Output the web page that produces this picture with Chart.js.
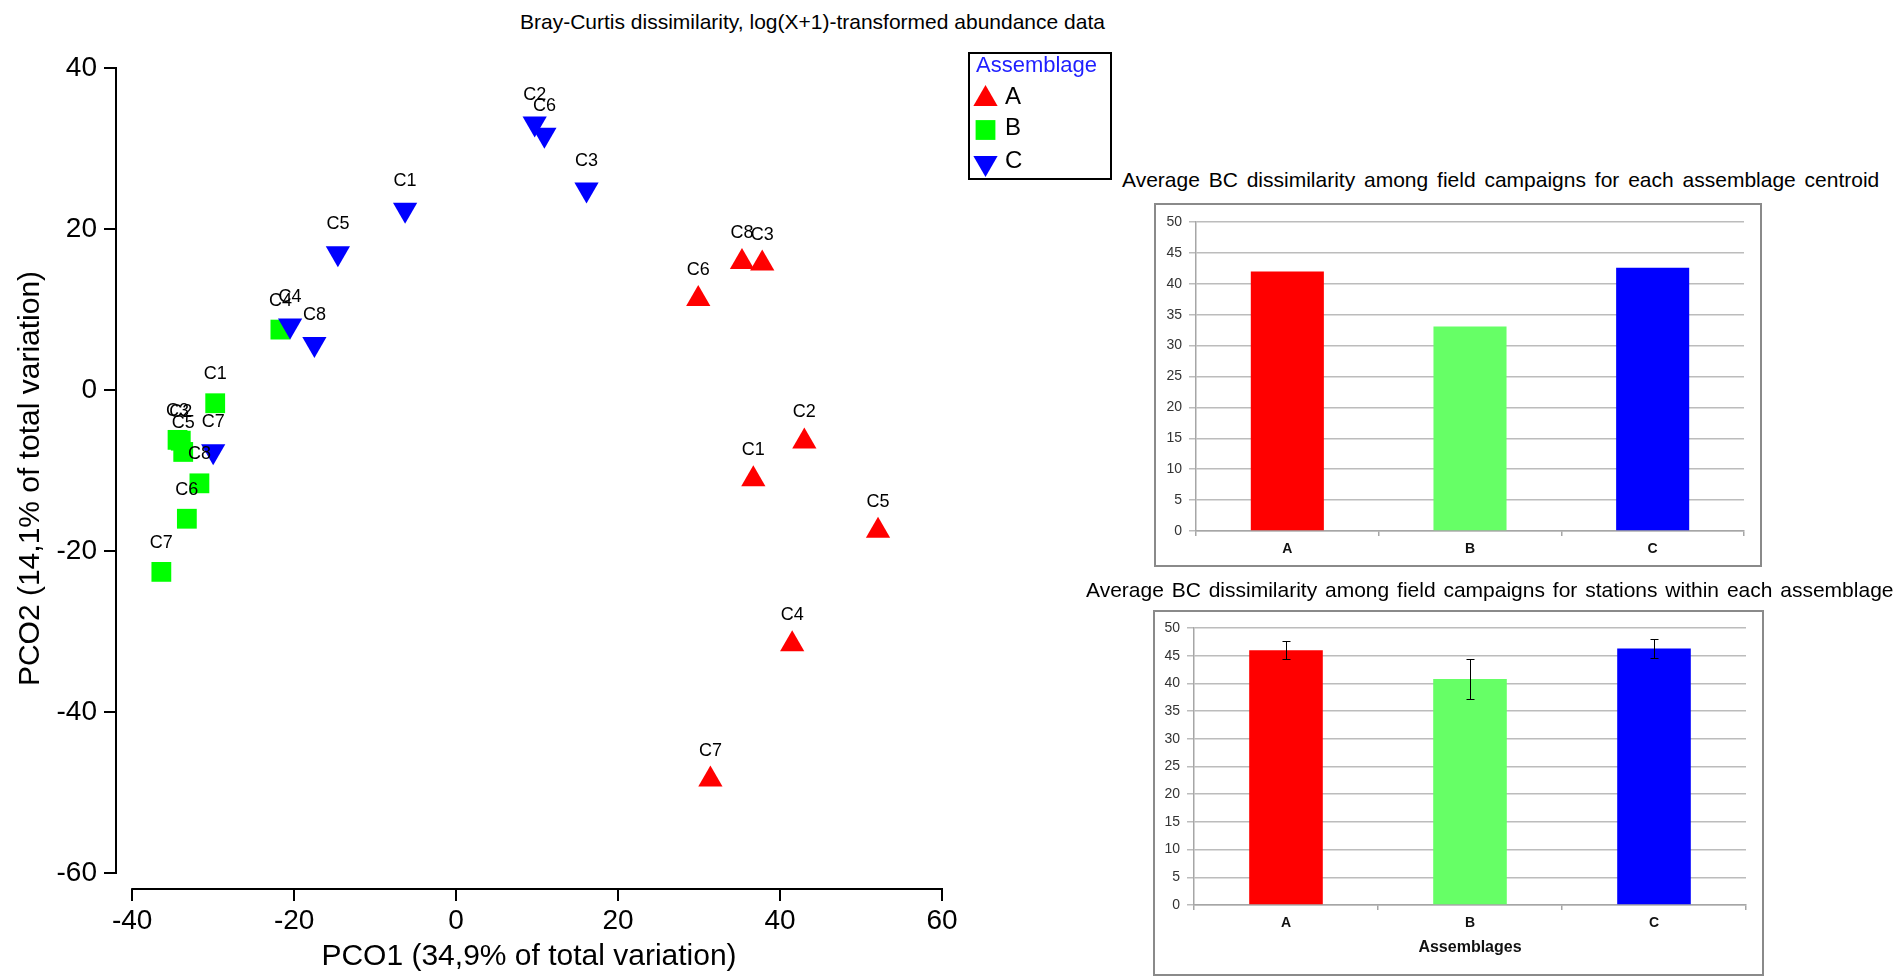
<!DOCTYPE html>
<html>
<head>
<meta charset="utf-8">
<script src="https://cdn.jsdelivr.net/npm/chart.js@4.4.1/dist/chart.umd.min.js"></script>
<style>
  body {
    margin: 0;
    width: 1898px;
    height: 977px;
    position: relative;
    overflow: hidden;
    background: #fff;
    font-family: "Liberation Sans", Arial, sans-serif;
    color: #000;
  }
  .abs { position: absolute; }
  .txt { white-space: nowrap; line-height: 1; }
  #pcoTitle { left: 520px; top: 11px; font-size: 21px; }
  #barTitle1 { left: 1122px; top: 169px; font-size: 21px; word-spacing: 3px; }
  #barTitle2 { left: 1086px; top: 579px; font-size: 21px; word-spacing: 2px; }
  .box { border: 2px solid #8a8a8a; box-sizing: border-box; }
  #box1 { left: 1154px; top: 203px; width: 608px; height: 364px; }
  #box2 { left: 1153px; top: 610px; width: 611px; height: 366px; }
  canvas { display: block; }
</style>
</head>
<body>
<div id="pcoTitle" class="abs txt">Bray-Curtis dissimilarity, log(X+1)-transformed abundance data</div>
<canvas id="pco" class="abs" width="1120" height="977" style="left:0;top:0"></canvas>

<div id="barTitle1" class="abs txt">Average BC dissimilarity among field campaigns for each assemblage centroid</div>
<div id="box1" class="abs box"><canvas id="bc1" width="604" height="360"></canvas></div>

<div id="barTitle2" class="abs txt">Average BC dissimilarity among field campaigns for stations within each assemblage</div>
<div id="box2" class="abs box"><canvas id="bc2" width="607" height="362"></canvas></div>

<script>
// PCO ordination, one point per station and assemblage
const stations = ["C1", "C2", "C3", "C4", "C5", "C6", "C7", "C8"];
const pco1A = [36.7, 43.0, 37.8, 41.5, 52.1, 29.9, 31.4, 35.3];
const pco2A = [-11.1, -6.4, 15.7, -31.6, -17.5, 11.3, -48.4, 15.9];
const pco1B = [-29.75, -34.0, -34.4, -21.7, -33.7, -33.25, -36.4, -31.7];
const pco2B = [-1.65, -6.3, -6.2, 7.5, -7.7, -16.0, -22.6, -11.6];
const pco1C = [-6.3, 9.7, 16.1, -20.5, -14.6, 10.9, -30.0, -17.5];
const pco2C = [22.4, 33.1, 24.9, 8.0, 17.0, 31.7, -7.6, 5.7];
const pcoXTicks = [-40, -20, 0, 20, 40, 60];
const pcoYTicks = [-60, -40, -20, 0, 20, 40];

// bar charts
const assemblages = ["A", "B", "C"];
const centroidDissim = [42.0, 33.1, 42.6];
const stationDissim = [46.0, 40.8, 46.3];
const stationErr = [1.6, 3.6, 1.7];
const barTicks = [0, 5, 10, 15, 20, 25, 30, 35, 40, 45, 50];

Chart.defaults.font.family = '"Liberation Sans", Arial, sans-serif';
Chart.defaults.color = "#000";
Chart.defaults.animation = false;
Chart.defaults.plugins.legend.display = false;
Chart.defaults.plugins.tooltip.enabled = false;

function toPoints(xs, ys) {
  return xs.map((x, i) => ({ x: x, y: ys[i] }));
}

// axis lines only span the tick range, like the PRIMER plot
const pcoAxes = {
  id: "pcoAxes",
  afterDraw(chart) {
    const { ctx, chartArea, scales } = chart;
    const x0 = scales.x.getPixelForValue(pcoXTicks[0]);
    const x1 = scales.x.getPixelForValue(pcoXTicks[pcoXTicks.length - 1]);
    const y0 = scales.y.getPixelForValue(pcoYTicks[0]);
    const y1 = scales.y.getPixelForValue(pcoYTicks[pcoYTicks.length - 1]);
    ctx.save();
    ctx.strokeStyle = "#000";
    ctx.lineWidth = 2;
    ctx.beginPath();
    ctx.moveTo(chartArea.left, y0 + 1);
    ctx.lineTo(chartArea.left, y1 - 1);
    ctx.moveTo(x0 - 1, chartArea.bottom);
    ctx.lineTo(x1 + 1, chartArea.bottom);
    ctx.stroke();
    ctx.restore();
  },
};

// station names above each symbol
const pcoLabels = {
  id: "pcoLabels",
  afterDatasetsDraw(chart) {
    const ctx = chart.ctx;
    ctx.save();
    ctx.font = '18px "Liberation Sans", Arial, sans-serif';
    ctx.fillStyle = "#000";
    ctx.textAlign = "center";
    ctx.textBaseline = "middle";
    chart.data.datasets.forEach((ds, d) => {
      chart.getDatasetMeta(d).data.forEach((pt, i) => {
        ctx.fillText(stations[i], pt.x, pt.y - 29);
      });
    });
    ctx.restore();
  },
};

// boxed legend to the right of the plot
const pcoLegend = {
  id: "pcoLegend",
  afterDraw(chart) {
    const ctx = chart.ctx;
    const rowY = [99, 130, 163];
    ctx.save();
    ctx.strokeStyle = "#000";
    ctx.lineWidth = 2;
    ctx.strokeRect(969, 53, 142, 126);
    ctx.font = '22px "Liberation Sans", Arial, sans-serif';
    ctx.fillStyle = "#1f1fff";
    ctx.textBaseline = "alphabetic";
    ctx.fillText("Assemblage", 976, 72);
    ctx.font = '24px "Liberation Sans", Arial, sans-serif';
    chart.data.datasets.forEach((ds, i) => {
      ctx.fillStyle = ds.pointBackgroundColor;
      Chart.helpers.drawPoint(ctx, {
        pointStyle: ds.pointStyle,
        rotation: ds.pointRotation,
        radius: ds.pointRadius,
        borderWidth: 0,
      }, 985.5, rowY[i]);
      ctx.fillStyle = "#000";
      ctx.fillText(ds.label, 1005, rowY[i] + 5);
    });
    ctx.restore();
  },
};

new Chart(document.getElementById("pco"), {
  type: "scatter",
  data: {
    datasets: [
      {
        label: "A",
        data: toPoints(pco1A, pco2A),
        pointStyle: "triangle",
        pointRotation: 0,
        pointRadius: 14,
        pointBackgroundColor: "#ff0000",
        pointBorderWidth: 0,
        order: 3,
      },
      {
        label: "B",
        data: toPoints(pco1B, pco2B),
        pointStyle: "rect",
        pointRotation: 0,
        pointRadius: 14,
        pointBackgroundColor: "#00ff00",
        pointBorderWidth: 0,
        order: 2,
      },
      {
        label: "C",
        data: toPoints(pco1C, pco2C),
        pointStyle: "triangle",
        pointRotation: 180,
        pointRadius: 14,
        pointBackgroundColor: "#0000ff",
        pointBorderWidth: 0,
        order: 1,
      },
    ],
  },
  options: {
    responsive: false,
    layout: { padding: { top: 68, right: 178, left: 0, bottom: 0 } },
    scales: {
      x: {
        type: "linear",
        min: -42,
        max: 60,
        afterBuildTicks: (s) => {
          s.ticks = pcoXTicks.map((v) => ({ value: v }));
        },
        afterFit: (s) => {
          s.height = 88;
        },
        border: { display: false },
        grid: { drawOnChartArea: false, color: "#000", lineWidth: 2, tickLength: 12 },
        ticks: { font: { size: 28 }, color: "#000", padding: 3, maxRotation: 0 },
        title: {
          display: true,
          text: "PCO1 (34,9% of total variation)",
          font: { size: 30 },
          color: "#000",
          padding: { top: 0, bottom: 2 },
        },
      },
      y: {
        type: "linear",
        min: -62,
        max: 40,
        afterBuildTicks: (s) => {
          s.ticks = pcoYTicks.map((v) => ({ value: v }));
        },
        afterFit: (s) => {
          s.width = 116;
        },
        border: { display: false },
        grid: { drawOnChartArea: false, color: "#000", lineWidth: 2, tickLength: 12 },
        ticks: { font: { size: 28 }, color: "#000", padding: 7 },
        title: {
          display: true,
          text: "PCO2 (14,1% of total variation)",
          font: { size: 30 },
          color: "#000",
          padding: { top: 13, bottom: 0 },
        },
      },
    },
  },
  plugins: [pcoAxes, pcoLabels, pcoLegend],
});

const barColors = ["#ff0000", "#66ff66", "#0000ff"];

function barScales(yWidth, xHeight, xTitle) {
  return {
    y: {
      min: 0,
      max: 50,
      afterBuildTicks: (s) => {
        s.ticks = barTicks.map((v) => ({ value: v }));
      },
      afterFit: (s) => {
        s.width = yWidth;
      },
      border: { color: "#a6a6a6", width: 1.5 },
      grid: { color: "#bcbcbc", lineWidth: 1.5, tickLength: 7 },
      ticks: { font: { size: 14 }, color: "#333", padding: 7 },
    },
    x: {
      afterFit: (s) => {
        s.height = xHeight;
      },
      border: { color: "#a6a6a6", width: 1.5 },
      grid: { drawOnChartArea: false, color: "#a6a6a6", lineWidth: 1.5, tickLength: 5, offset: true },
      ticks: { font: { size: 14, weight: "bold" }, color: "#111", padding: 5 },
      title: xTitle,
    },
  };
}

new Chart(document.getElementById("bc1"), {
  type: "bar",
  data: {
    labels: assemblages,
    datasets: [
      {
        data: centroidDissim,
        backgroundColor: barColors,
        barPercentage: 0.4,
        categoryPercentage: 1,
      },
    ],
  },
  options: {
    responsive: false,
    layout: { padding: { top: 17, right: 16, left: 0, bottom: 0 } },
    scales: barScales(40, 34, { display: false }),
  },
});

// whiskers for the station-level means
const errorBars = {
  id: "errorBars",
  afterDatasetsDraw(chart) {
    const ctx = chart.ctx;
    const y = chart.scales.y;
    ctx.save();
    ctx.strokeStyle = "#000";
    ctx.lineWidth = 1;
    chart.getDatasetMeta(0).data.forEach((bar, i) => {
      const v = stationDissim[i];
      const e = stationErr[i];
      const x = Math.round(bar.x) + 0.5;
      const top = Math.round(y.getPixelForValue(v + e)) + 0.5;
      const bot = Math.round(y.getPixelForValue(v - e)) + 0.5;
      ctx.beginPath();
      ctx.moveTo(x, top);
      ctx.lineTo(x, bot);
      ctx.moveTo(x - 4, top);
      ctx.lineTo(x + 4, top);
      ctx.moveTo(x - 4, bot);
      ctx.lineTo(x + 4, bot);
      ctx.stroke();
    });
    ctx.restore();
  },
};

new Chart(document.getElementById("bc2"), {
  type: "bar",
  data: {
    labels: assemblages,
    datasets: [
      {
        data: stationDissim,
        backgroundColor: barColors,
        barPercentage: 0.4,
        categoryPercentage: 1,
      },
    ],
  },
  options: {
    responsive: false,
    layout: { padding: { top: 16, right: 16, left: 0, bottom: 0 } },
    scales: barScales(39, 69, {
      display: true,
      text: "Assemblages",
      font: { size: 16, weight: "bold" },
      color: "#111",
      padding: { top: 0, bottom: 17 },
    }),
  },
  plugins: [errorBars],
});
</script>
</body>
</html>
